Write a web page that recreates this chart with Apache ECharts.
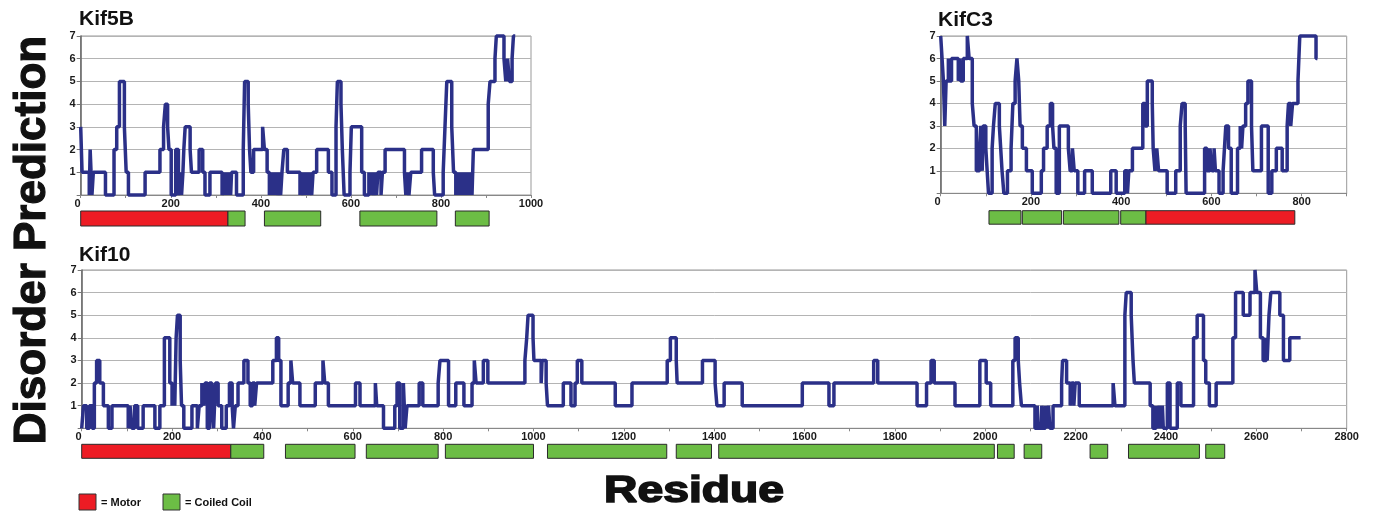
<!DOCTYPE html>
<html><head><meta charset="utf-8">
<script src="https://cdn.jsdelivr.net/npm/echarts@6/dist/echarts.min.js"></script>
<style>html,body{margin:0;padding:0;background:#fff}#c{width:1374px;height:516px}</style>
</head><body><div id="c"></div>
<script>
// ---- data: [residue, disorder value] change points (step line) ----
const kif5bSteps = [[0,3],[3,1],[19,0],[21,2],[25,0],[28,1],[55,0],[74,2],[80,3],[86,5],[97,3],[101,1],[106,0],[143,1],[176,2],[184,3],[188,4],[193,3],[196,2],[201,0],[211,2],[217,0],[221,1],[224,0],[227,1],[229,2],[232,3],[243,2],[246,1],[263,2],[271,1],[276,0],[287,1],[314,0],[318,1],[321,0],[324,1],[327,0],[330,1],[333,0],[335,1],[346,0],[361,2],[364,5],[372,4],[375,2],[378,1],[384,2],[404,3],[408,2],[414,1],[419,0],[421,1],[424,0],[427,1],[430,0],[433,1],[436,0],[440,1],[444,0],[447,1],[451,2],[459,1],[487,0],[490,1],[494,0],[497,1],[500,0],[503,1],[506,0],[509,1],[513,0],[516,1],[524,2],[550,1],[558,0],[567,3],[570,5],[578,4],[581,2],[585,0],[598,1],[601,3],[624,1],[630,0],[640,1],[643,0],[646,1],[650,0],[653,1],[657,0],[660,1],[667,0],[670,1],[676,2],[719,1],[722,0],[725,1],[729,0],[733,1],[757,2],[783,1],[786,0],[805,1],[809,3],[813,5],[824,3],[828,1],[833,0],[836,1],[839,0],[842,1],[845,0],[848,1],[851,0],[854,1],[857,0],[860,1],[863,0],[866,1],[869,0],[872,2],[905,4],[909,5],[920,6],[923,7],[940,6],[944,5],[948,6],[952,5],[958,6],[961,7],[965,7]];
const kifc3Steps = [[0,7],[3,6],[6,5],[9,3],[12,5],[17,6],[19,5],[24,6],[39,5],[42,6],[44,5],[50,6],[59,7],[63,6],[70,4],[74,3],[79,1],[86,2],[89,3],[92,1],[94,3],[100,2],[103,1],[106,0],[114,2],[117,3],[121,4],[130,3],[133,2],[136,1],[140,0],[148,1],[156,2],[160,4],[165,5],[169,6],[173,5],[176,3],[181,2],[190,1],[203,0],[223,1],[228,2],[236,3],[243,4],[248,3],[251,2],[256,0],[263,3],[283,2],[287,1],[292,2],[296,1],[304,0],[319,1],[336,0],[377,1],[389,0],[408,1],[414,0],[417,1],[425,2],[448,4],[453,3],[458,5],[469,4],[471,2],[475,1],[479,2],[483,1],[502,0],[521,1],[531,3],[535,4],[542,3],[544,0],[585,2],[590,1],[597,2],[601,1],[606,2],[609,1],[617,0],[626,1],[629,2],[632,3],[638,2],[644,0],[658,2],[664,3],[667,2],[670,3],[676,4],[681,5],[689,3],[692,1],[711,3],[726,0],[734,1],[744,2],[757,1],[768,3],[771,4],[776,3],[780,4],[792,5],[796,7],[832,6],[835,6]];
const kif10Steps = [[0,0],[4,1],[11,0],[17,1],[23,0],[28,2],[33,3],[40,2],[48,1],[59,0],[67,1],[103,0],[107,1],[111,0],[117,1],[124,0],[136,1],[162,0],[173,1],[183,4],[195,2],[200,1],[204,2],[206,1],[209,4],[212,5],[218,3],[221,1],[226,0],[244,1],[256,0],[260,1],[266,2],[270,1],[273,2],[278,0],[283,2],[288,1],[292,0],[296,2],[302,1],[310,0],[320,1],[327,2],[333,1],[336,0],[340,1],[346,2],[359,3],[368,2],[373,1],[378,2],[383,1],[387,2],[423,3],[431,4],[436,3],[441,1],[457,2],[463,3],[467,2],[483,1],[517,2],[534,3],[538,2],[546,1],[606,2],[616,1],[650,2],[653,1],[668,0],[693,1],[698,2],[704,0],[712,2],[716,0],[720,1],[747,2],[755,1],[789,2],[793,3],[812,1],[828,2],[846,1],[864,2],[869,3],[873,2],[889,3],[899,2],[981,3],[985,4],[988,5],[999,4],[1001,3],[1017,2],[1019,3],[1028,2],[1031,1],[1066,2],[1083,1],[1092,2],[1097,3],[1107,2],[1181,1],[1218,2],[1296,3],[1303,4],[1316,3],[1318,2],[1374,3],[1402,2],[1406,1],[1422,2],[1462,1],[1595,2],[1654,1],[1665,2],[1753,3],[1762,2],[1849,1],[1870,2],[1880,3],[1887,2],[1933,1],[1988,3],[2002,2],[2012,1],[2061,3],[2066,4],[2073,3],[2076,2],[2080,1],[2110,0],[2115,1],[2118,0],[2125,1],[2128,0],[2133,1],[2136,0],[2140,1],[2143,0],[2150,1],[2169,2],[2171,3],[2180,2],[2188,1],[2191,2],[2196,1],[2199,2],[2208,1],[2283,2],[2287,1],[2309,5],[2312,6],[2323,5],[2327,3],[2330,2],[2365,1],[2371,0],[2378,1],[2382,0],[2385,1],[2388,0],[2392,1],[2394,0],[2403,2],[2409,0],[2425,2],[2433,1],[2461,4],[2469,5],[2483,3],[2488,2],[2496,1],[2511,2],[2548,4],[2554,6],[2571,5],[2586,6],[2597,7],[2601,6],[2609,4],[2615,3],[2622,4],[2624,3],[2628,5],[2632,6],[2652,5],[2660,3],[2674,4],[2698,4]];

// ---- domains: [start, end, kind] kind 1 = Motor, 0 = Coiled Coil ----
const kif5bDomains = [[0,327,1],[327,365,0],[408,533,0],[620,791,0],[832,907,0]];
const kifc3Domains = [[107,178,0],[181,268,0],[272,395,0],[399,455,0],[455,785,1]];
const kif10Domains = [[0,330,1],[330,403,0],[451,605,0],[630,789,0],[805,1000,0],[1031,1295,0],[1316,1394,0],[1410,2020,0],[2027,2064,0],[2086,2125,0],[2232,2271,0],[2317,2474,0],[2488,2530,0]];

const titles = ['Kif5B','KifC3','Kif10'];
const xMaxes = [1000, 900, 2800];
const yMax = 7;

const FONT = '"Liberation Sans", Arial, sans-serif';
const LINE = '#2b3088', RED = '#ed1c24', GREEN = '#6cbd45';

const grids = [
  {left:80.7, top:36, width:450.3, height:159},
  {left:940.7, top:36, width:406, height:157.3},
  {left:81.7, top:270, width:1265, height:158.3},
  {left:80.7, top:211, width:450.3, height:15},
  {left:940.7, top:210.7, width:406, height:13.5},
  {left:81.7, top:444.3, width:1265, height:14}
].map((g,i)=>Object.assign({containLabel:false, show:i<3, borderColor:'#999', borderWidth:1, backgroundColor:'#fff'}, g));

const xAxes = [], yAxes = [];
for (let i=0;i<3;i++){
  xAxes.push({type:'value', gridIndex:i, min:0, max:xMaxes[i], interval:100,
    axisLine:{show:true, lineStyle:{color:'#888', width:1}},
    axisTick:{show:true, length:3, lineStyle:{color:'#888'}},
    splitLine:{show:false},
    axisLabel:{color:'#1a1a1a', fontFamily:FONT, fontWeight:'bold', fontSize:11, margin:3,
      alignMinLabel:'right', showMaxLabel:true,
      formatter:v=> (v%200===0 ? String(v) : '')}});
  yAxes.push({type:'value', gridIndex:i, min:0, max:yMax, interval:1,
    axisLine:{show:true, lineStyle:{color:'#666', width:1.5}},
    axisTick:{show:true, length:4, lineStyle:{color:'#777'}},
    splitLine:{show:true, lineStyle:{color:'#b4b4b4', width:1}},
    axisLabel:{color:'#1a1a1a', fontFamily:FONT, fontWeight:'bold', fontSize:11, margin:5,
      formatter:v=> (v===0 ? '' : String(v))}});
}
for (let i=0;i<3;i++){
  xAxes.push({type:'value', gridIndex:3+i, min:0, max:xMaxes[i], show:false});
  yAxes.push({type:'value', gridIndex:3+i, min:0, max:1, show:false});
}

function renderDomain(params, api){
  const s = api.coord([api.value(0), 1]);
  const e = api.coord([api.value(1), 0]);
  return {type:'rect', shape:{x:s[0], y:s[1], width:e[0]-s[0], height:e[1]-s[1]},
    style:{fill: api.value(2)===1 ? RED : GREEN, stroke:'#2a2a2a', lineWidth:1}};
}

const steps = [kif5bSteps, kifc3Steps, kif10Steps];
const domains = [kif5bDomains, kifc3Domains, kif10Domains];
const series = [];
for (let i=0;i<3;i++){
  series.push({type:'line', xAxisIndex:i, yAxisIndex:i, data:steps[i], step:'end',
    symbol:'none', clip:false, lineStyle:{color:LINE, width:3.5}, silent:true});
  series.push({type:'custom', xAxisIndex:3+i, yAxisIndex:3+i, data:domains[i],
    renderItem:renderDomain, clip:false, silent:true});
}

function txt(x, y, text, size, opts, extraStyle){
  return Object.assign({type:'text', x:x, y:y, silent:true,
    style:Object.assign({text:text, fontFamily:FONT, fontWeight:'bold', fontSize:size, fill:'#111',
      align:'left', textAlign:'left', verticalAlign:'middle', textVerticalAlign:'middle'}, extraStyle||{})}, opts||{});
}
const titlePos = [[79,19.6],[938,20],[79,255]];
const graphic = titles.map((t,i)=>txt(titlePos[i][0], titlePos[i][1], t, 21));
graphic.push(txt(33, 240, 'Disorder Prediction', 44, {rotation:Math.PI/2},
  {align:'center', textAlign:'center', stroke:'#111', lineWidth:1.2}));
graphic.push(txt(694, 492, 'Residue', 37, {scaleX:1.25},
  {align:'center', textAlign:'center', stroke:'#111', lineWidth:1.6}));
// legend
graphic.push({type:'rect', shape:{x:79, y:494, width:17, height:16}, style:{fill:RED, stroke:'#333', lineWidth:1}});
graphic.push(txt(101, 503, '= Motor', 11));
graphic.push({type:'rect', shape:{x:163, y:494, width:17, height:16}, style:{fill:GREEN, stroke:'#333', lineWidth:1}});
graphic.push(txt(185, 503, '= Coiled Coil', 11));

const chart = echarts.init(document.getElementById('c'), null, {renderer:'canvas'});
chart.setOption({animation:false, backgroundColor:'#fff', grid:grids, xAxis:xAxes, yAxis:yAxes, series:series, graphic:graphic});
</script></body></html>
